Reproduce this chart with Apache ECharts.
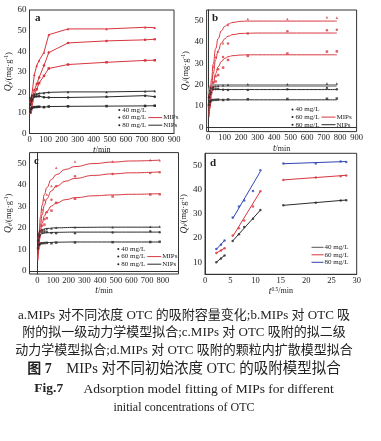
<!DOCTYPE html>
<html><head><meta charset="utf-8">
<script src="https://cdn.jsdelivr.net/npm/echarts@6/dist/echarts.min.js"></script>
<style>html,body{margin:0;padding:0;background:#fff}#c{width:381px;height:441px}</style>
</head><body><div id="c"></div>
<script>
// ---------- data ----------
const times = [5, 10, 15, 30, 45, 60, 90, 120, 240, 480, 720, 780];
const sqrtTimes = [2.24, 3.16, 3.87, 5.48, 6.71, 7.75, 9.49, 10.95, 15.49, 21.91, 26.83, 27.93];
const mip40 = [10.0, 11.5, 12.8, 18.8, 21.5, 24.5, 28.0, 31.6, 33.5, 34.6, 35.5, 35.6];
const mip60 = [13.8, 14.8, 15.8, 21.0, 24.0, 27.2, 33.0, 39.3, 44.0, 45.0, 45.5, 45.8];
const mip80 = [15.5, 17.2, 19.0, 28.5, 33.0, 35.5, 39.4, 48.0, 50.8, 50.8, 51.6, 51.4];
const nip40 = [10.5, 12.0, 12.5, 12.8, 12.9, 13.0, 12.8, 13.1, 13.2, 13.3, 13.4, 13.5];
const nip60 = [14.0, 15.5, 16.5, 17.8, 18.0, 18.1, 17.6, 17.5, 17.5, 17.8, 18.4, 17.9];
const nip80 = [14.5, 17.5, 18.5, 19.0, 19.2, 19.5, 19.7, 20.0, 20.2, 20.2, 20.5, 20.6];
// pseudo-first-order fitted curves (panel b)
const pfoT = [5, 10, 20, 30, 45, 60, 80, 100, 120, 150, 200, 240, 300, 480, 780];
const pfoMip40 = [4.7, 8.8, 15.3, 20.2, 25.2, 28.4, 30.9, 32.3, 33.1, 33.6, 33.9, 34.0, 34.0, 34.0, 34.0];
const pfoMip60 = [5.8, 10.8, 19.0, 25.1, 31.7, 36.0, 39.5, 41.5, 42.7, 43.5, 44.0, 44.1, 44.2, 44.2, 44.2];
const pfoMip80 = [6.9, 12.9, 22.5, 29.6, 36.9, 41.6, 45.3, 47.3, 48.4, 49.2, 49.7, 49.8, 49.8, 49.8, 49.8];
const nipFitT = [5, 10, 15, 20, 30, 60, 120, 240, 480, 780];
const pfoNip40 = [10.2, 12.2, 12.7, 12.85, 12.9, 12.9, 12.9, 12.9, 12.9, 12.9];
const pfoNip60 = [14.0, 16.8, 17.4, 17.6, 17.7, 17.7, 17.7, 17.7, 17.7, 17.7];
const pfoNip80 = [15.5, 18.6, 19.3, 19.5, 19.6, 19.6, 19.6, 19.6, 19.6, 19.6];
// pseudo-second-order fitted curves (panel c)
const psoT = [3, 5, 10, 20, 30, 45, 60, 90, 120, 180, 240, 360, 480, 600, 780];
const psoMip40 = [4.8, 7.4, 12.3, 18.4, 22.1, 25.5, 27.6, 30.1, 31.5, 33.1, 34.0, 34.9, 35.3, 35.6, 35.9];
const psoMip60 = [5.1, 7.9, 13.6, 21.1, 25.9, 30.5, 33.5, 37.2, 39.3, 41.7, 43.0, 44.4, 45.1, 45.6, 46.0];
const psoMip80 = [6.3, 9.7, 16.4, 25.1, 30.4, 35.5, 38.7, 42.5, 44.7, 47.2, 48.5, 49.9, 50.6, 51.1, 51.5];
const psoNipT = [3, 5, 10, 15, 20, 30, 60, 120, 240, 480, 780];
const psoNip40 = [8.0, 10.0, 11.7, 12.3, 12.6, 12.9, 13.1, 13.3, 13.4, 13.4, 13.4];
const psoNip60 = [10.0, 13.0, 15.5, 16.4, 16.9, 17.3, 17.7, 17.9, 18.0, 18.0, 18.0];
const psoNip80 = [11.0, 14.5, 17.2, 18.2, 18.7, 19.2, 19.7, 20.0, 20.2, 20.3, 20.3];
// intraparticle diffusion linear fits (panel d): segment x-ranges and end values
const dSegX = [[2.24, 3.87], [5.48, 10.95], [15.49, 27.93]];
const dFit40 = [[10.0, 12.8], [18.8, 31.5], [33.5, 35.7]];
const dFit60 = [[13.8, 15.8], [20.6, 39.3], [44.0, 45.9]];
const dFit80 = [[15.3, 19.0], [28.0, 47.5], [50.7, 51.6]];
const dTicks = [10, 20, 30, 40, 50];
const concLabels = ['40 mg/L', '60 mg/L', '80 mg/L'];

// ---------- style ----------
const RED = '#d7363e', DARK = '#2b2b2b', BLUE = '#3045b8', GREY = '#a3a3a3';
const SERIF = "'Liberation Serif', 'DejaVu Serif', serif";
const CAPF = "'Liberation Serif', 'Noto Sans CJK SC', serif";
const shapes = ['rect', 'circle', 'triangle'];
const pairs = (xs, ys) => xs.map((x, i) => [x, ys[i]]);

const chart = echarts.init(document.getElementById('c'), null, {renderer: 'canvas'});

const grids = [
  {left: 29.5, top: 10, width: 144.5, height: 123.5},
  {left: 206.6, top: 10, width: 150, height: 121.6},
  {left: 29.5, top: 152.6, width: 149, height: 121.4},
  {left: 205, top: 153.3, width: 151.7, height: 121}
].map(g => Object.assign({show: true, borderColor: '#333', borderWidth: 1, backgroundColor: 'transparent'}, g));

const yName = '{i|Q}{s|t}/(mg·g{p|-1})';
const nameRich = {
  i: {fontStyle: 'italic', fontSize: 9.5, fontFamily: SERIF, color: '#222'},
  s: {fontStyle: 'italic', fontSize: 6.5, fontFamily: SERIF, color: '#222', verticalAlign: 'bottom'},
  p: {fontSize: 5.5, fontFamily: SERIF, color: '#222', verticalAlign: 'top'}
};
function xAx(gi, min, max, interval, fmt, name) {
  return {type: 'value', gridIndex: gi, min, max, interval,
    axisLine: {show: true, lineStyle: {color: '#333', width: 1}}, axisTick: {show: false},
    splitLine: {show: false},
    axisLabel: {fontFamily: SERIF, fontSize: 8.5, color: '#222', margin: 2, formatter: fmt, showMinLabel: true, showMaxLabel: true, hideOverlap: false},
    name, nameLocation: 'middle', nameGap: 11,
    nameTextStyle: {fontFamily: SERIF, fontSize: 8, color: '#222', rich: nameRich}};
}
function yAx(gi, min, max, interval, fmt, gap) {
  return {type: 'value', gridIndex: gi, min, max, interval,
    axisLine: {show: true, lineStyle: {color: '#333', width: 1}}, axisTick: {show: false},
    splitLine: {show: false},
    axisLabel: {fontFamily: SERIF, fontSize: 9, color: '#222', margin: 3, formatter: fmt, showMinLabel: true, showMaxLabel: true, hideOverlap: false},
    name: yName, nameLocation: 'middle', nameRotate: 90, nameGap: gap,
    nameTextStyle: {fontFamily: SERIF, fontSize: 8.5, color: '#222', rich: nameRich}};
}
const tName = '{i|t}/min';
const xAxes = [
  xAx(0, 0, 900, 100, v => String(v), tName),
  xAx(1, -10, 900, 10, v => (v >= 0 && Math.round(v) % 100 === 0) ? String(Math.round(v)) : '', tName),
  xAx(2, -50, 900, 50, v => (v >= 0 && v <= 800 && Math.round(v) % 100 === 0) ? String(Math.round(v)) : '', tName),
  xAx(3, 0, 30, 5, v => String(v), '{i|t}{p|0.5}/min')
];
const yD = yAx(3, 5, 55, 5, v => (dTicks.indexOf(Math.round(v)) >= 0) ? String(Math.round(v)) : '', 10);
const yAxes = [
  yAx(0, 0, 60, 10, v => String(v), 14),
  yAx(1, -2, 55, 1, v => (v >= 0 && Math.round(v) % 10 === 0) ? String(Math.round(v)) : '', 10),
  yAx(2, -1.5, 55, 0.5, v => (v >= 0 && Math.abs(v - Math.round(v)) < 1e-6 && Math.round(v) % 10 === 0) ? String(Math.round(v)) : '', 14),
  yD
];

const series = [];
const mips = [mip40, mip60, mip80], nips = [nip40, nip60, nip80];
// panel a : connected data
for (let i = 0; i < 3; i++) {
  series.push({type: 'line', xAxisIndex: 0, yAxisIndex: 0, data: pairs(times, mips[i]),
    symbol: shapes[i], symbolSize: 2.5, lineStyle: {color: RED, width: 1}, itemStyle: {color: RED}, z: 3});
  series.push({type: 'line', xAxisIndex: 0, yAxisIndex: 0, data: pairs(times, nips[i]),
    symbol: shapes[i], symbolSize: 2.5, lineStyle: {color: DARK, width: 1}, itemStyle: {color: DARK}, z: 3});
}
// panels b, c : points + fitted curves
const pfoM = [pfoMip40, pfoMip60, pfoMip80], pfoN = [pfoNip40, pfoNip60, pfoNip80];
const psoM = [psoMip40, psoMip60, psoMip80], psoN = [psoNip40, psoNip60, psoNip80];
for (const [ax, fitT, fM, fNT, fN] of [[1, pfoT, pfoM, nipFitT, pfoN], [2, psoT, psoM, psoNipT, psoN]]) {
  for (let i = 0; i < 3; i++) {
    const nipW = (ax === 1 && i === 2) ? 3 : 1;
    const nipC = (ax === 1 && i === 2) ? GREY : DARK;
    series.push({type: 'line', xAxisIndex: ax, yAxisIndex: ax, data: pairs(fNT, fN[i]), smooth: true, smoothMonotone: 'x',
      showSymbol: false, lineStyle: {color: nipC, width: nipW}, z: 2});
    series.push({type: 'line', xAxisIndex: ax, yAxisIndex: ax, data: pairs(fitT, fM[i]), smooth: true, smoothMonotone: 'x',
      showSymbol: false, lineStyle: {color: RED, width: 1}, z: 2});
    series.push({type: 'scatter', xAxisIndex: ax, yAxisIndex: ax, data: pairs(times, mips[i]),
      symbol: shapes[i], symbolSize: 2.5, itemStyle: {color: RED}, z: 4});
    series.push({type: 'scatter', xAxisIndex: ax, yAxisIndex: ax, data: pairs(times, nips[i]),
      symbol: shapes[i], symbolSize: 2.5, itemStyle: {color: DARK}, z: 4});
  }
}
// panel d : intraparticle diffusion
const dFits = [dFit40, dFit60, dFit80], dCols = [DARK, RED, BLUE];
for (let i = 0; i < 3; i++) {
  series.push({type: 'scatter', xAxisIndex: 3, yAxisIndex: 3, data: pairs(sqrtTimes, mips[i]),
    symbol: 'circle', symbolSize: 2.5, itemStyle: {color: dCols[i]}, z: 4});
  for (let s = 0; s < 3; s++) {
    series.push({type: 'line', xAxisIndex: 3, yAxisIndex: 3,
      data: [[dSegX[s][0], dFits[i][s][0]], [dSegX[s][1], dFits[i][s][1]]],
      showSymbol: false, lineStyle: {color: dCols[i], width: 1}, z: 3});
  }
}

// ---------- legends, panel letters, caption ----------
const graphic = [];
const txt = (x, y, text, extra) => graphic.push({type: 'text', x, y, z: 10, silent: true,
  style: Object.assign({text, fill: '#222', font: '7px ' + SERIF, textVerticalAlign: 'middle'}, extra || {})});
function legendABC(x0, y0) {
  for (let i = 0; i < 3; i++) {
    const y = y0 + i * 7.6;
    graphic.push({type: 'circle', z: 10, silent: true, shape: {cx: x0, cy: y, r: 1}, style: {fill: '#222'}});
    txt(x0 + 3, y, concLabels[i]);
    if (i > 0) {
      graphic.push({type: 'line', z: 10, silent: true, shape: {x1: x0 + 29, y1: y, x2: x0 + 43, y2: y},
        style: {stroke: i === 1 ? RED : DARK, lineWidth: 1}});
      txt(x0 + 44, y, i === 1 ? 'MIPs' : 'NIPs');
    }
  }
}
legendABC(119.3, 110);
legendABC(292.5, 109.5);
legendABC(118.3, 249);
for (let i = 0; i < 3; i++) {
  const y = 247.3 + i * 7.5;
  graphic.push({type: 'line', z: 10, silent: true, shape: {x1: 311.5, y1: y, x2: 323.5, y2: y},
    style: {stroke: i === 0 ? '#555' : dCols[i], lineWidth: 1}});
  txt(324.5, y, concLabels[i]);
}
const letter = (x, y, t) => txt(x, y, t, {font: 'bold 11px ' + SERIF});
letter(35, 18, 'a'); letter(212, 18.5, 'b'); letter(34, 161.5, 'c'); letter(210, 163, 'd');

const cap = (y, text, size, rich) => graphic.push({type: 'text', x: 184, y, z: 10, silent: true,
  style: {text, fill: '#222', font: size + 'px ' + CAPF, textAlign: 'center', textVerticalAlign: 'middle', rich: rich || {}}});
cap(315.5, 'a.MIPs 对不同浓度 OTC 的吸附容量变化;b.MIPs 对 OTC 吸', 13);
cap(333, '附的拟一级动力学模型拟合;c.MIPs 对 OTC 吸附的拟二级', 13);
cap(350.5, '动力学模型拟合;d.MIPs 对 OTC 吸附的颗粒内扩散模型拟合', 13);
cap(369, '{b|图 7}    MIPs 对不同初始浓度 OTC 的吸附模型拟合', 14.5,
  {b: {fontWeight: 'bold', fontSize: 14, fontFamily: CAPF, fill: '#222'}});
cap(389, '{b|Fig.7}      Adsorption model fitting of MIPs for different', 13.5,
  {b: {fontWeight: 'bold', fontSize: 13.5, fontFamily: SERIF, fill: '#222'}});
cap(408, 'initial concentrations of OTC', 12);

chart.setOption({
  animation: false,
  backgroundColor: '#fff',
  grid: grids,
  xAxis: xAxes,
  yAxis: yAxes,
  series,
  graphic
});
</script></body></html>
